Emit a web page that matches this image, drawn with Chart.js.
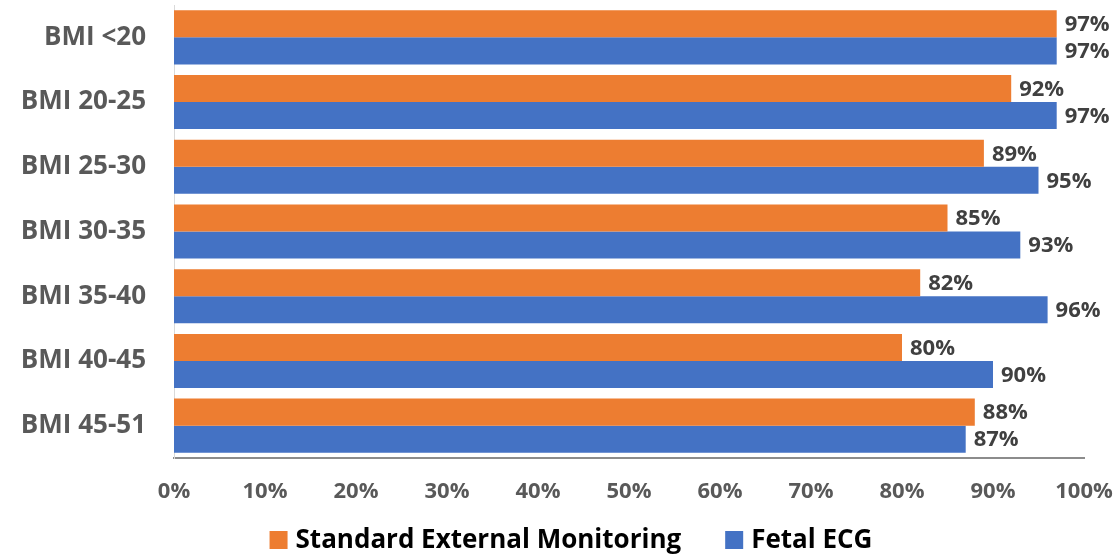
<!DOCTYPE html>
<html>
<head>
<meta charset="utf-8">
<script src="https://cdn.jsdelivr.net/npm/chart.js@4"></script>
<style>
  html, body { margin: 0; padding: 0; background: #fff; }
  #wrap { width: 1120px; height: 560px; }
</style>
</head>
<body>
<div id="wrap"><canvas id="c"></canvas></div>
<script>
const categories = ['BMI <20', 'BMI 20-25', 'BMI 25-30', 'BMI 30-35', 'BMI 35-40', 'BMI 40-45', 'BMI 45-51'];
const standardValues = [97, 92, 89, 85, 82, 80, 88];
const fetalEcgValues = [97, 97, 95, 93, 96, 90, 87];
const xTicks = [0, 10, 20, 30, 40, 50, 60, 70, 80, 90, 100];

const ORANGE = '#ED7D31';
const BLUE = '#4472C4';
const FONT = '"Open Sans", sans-serif';

// value labels at the end of each bar
const barLabels = {
  id: 'barLabels',
  afterDatasetsDraw(chart) {
    const ctx = chart.ctx;
    ctx.save();
    ctx.font = 'bold 22px ' + FONT;
    ctx.fillStyle = '#404040';
    ctx.textAlign = 'left';
    ctx.textBaseline = 'middle';
    chart.data.datasets.forEach((ds, i) => {
      chart.getDatasetMeta(i).data.forEach((bar, j) => {
        ctx.fillText(ds.data[j] + '%', bar.x + 8, bar.y + 1);
      });
    });
    ctx.restore();
  }
};

// legend row under the axis
const bottomLegend = {
  id: 'bottomLegend',
  afterDraw(chart) {
    const ctx = chart.ctx;
    const box = 18, gap = 8, between = 44, y = 540;
    ctx.save();
    ctx.font = 'bold 26px ' + FONT;
    ctx.textBaseline = 'middle';
    const items = chart.data.datasets.map(ds => ({
      text: ds.label, color: ds.backgroundColor, w: ctx.measureText(ds.label).width
    }));
    let total = items.reduce((s, it) => s + box + gap + it.w, 0) + between * (items.length - 1);
    let x = (chart.width - total) / 2 + 11;
    items.forEach(it => {
      ctx.fillStyle = it.color;
      ctx.fillRect(x, y - box / 2, box, box);
      ctx.fillStyle = '#000';
      ctx.fillText(it.text, x + box + gap, y + 1);
      x += box + gap + it.w + between;
    });
    ctx.restore();
  }
};

new Chart(document.getElementById('c'), {
  type: 'bar',
  data: {
    labels: categories,
    datasets: [
      {
        label: 'Standard External Monitoring',
        data: standardValues,
        backgroundColor: ORANGE,
        categoryPercentage: 0.835,
        barPercentage: 1.0,
      },
      {
        label: 'Fetal ECG',
        data: fetalEcgValues,
        backgroundColor: BLUE,
        categoryPercentage: 0.835,
        barPercentage: 1.0,
      },
    ],
  },
  options: {
    indexAxis: 'y',
    responsive: true,
    maintainAspectRatio: false,
    animation: false,
    layout: { padding: { top: 5, right: 36, left: 0, bottom: 52 } },
    scales: {
      x: {
        min: 0,
        max: 100,
        afterBuildTicks: (scale) => { scale.ticks = xTicks.map(v => ({ value: v })); },
        ticks: {
          color: '#595959',
          font: { family: FONT, size: 22, weight: 'bold' },
          padding: 21,
          maxRotation: 0,
          callback: (v) => v + '%',
        },
        grid: { display: false, drawTicks: false },
        border: { color: '#8c8c8c', width: 2 },
        afterFit: (scale) => {
          scale.height = 50;
          scale.paddingLeft = 0;
          scale.paddingRight = 0;
        },
      },
      y: {
        ticks: {
          color: '#595959',
          font: { family: FONT, size: 26, weight: 'bold' },
          padding: 28,
        },
        grid: { display: false, drawTicks: false },
        border: { color: '#d9d9d9', width: 1 },
        afterFit: (scale) => {
          scale.width = 174;
          scale.paddingTop = 0;
          scale.paddingBottom = 0;
        },
      },
    },
    plugins: {
      legend: { display: false },
      tooltip: { enabled: false },
    },
  },
  plugins: [barLabels, bottomLegend],
});
</script>
</body>
</html>
